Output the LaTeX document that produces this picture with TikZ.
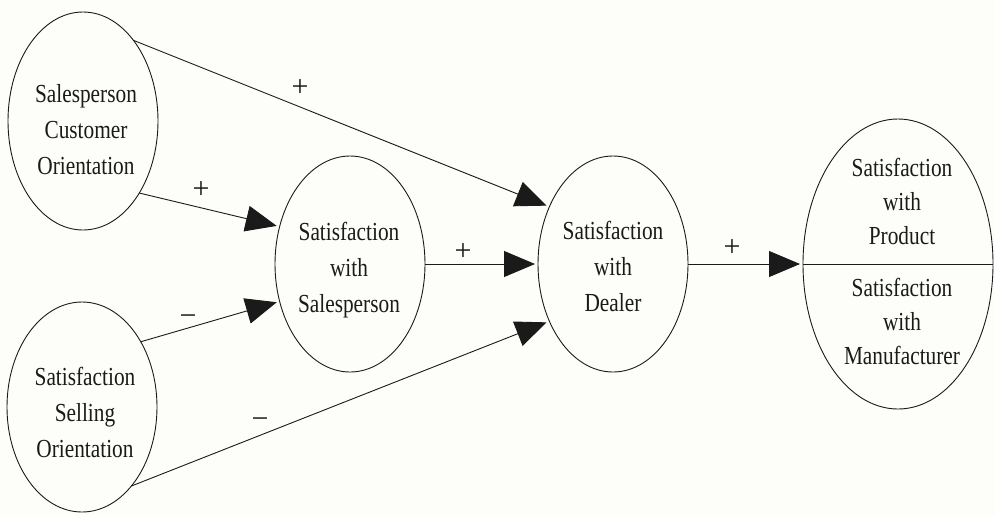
\documentclass[tikz,border=0pt]{standalone}
\usepackage{fontspec}
\usepackage{graphicx}
\setmainfont{Liberation Serif}
\usetikzlibrary{arrows.meta,shapes.geometric}
\definecolor{ink}{HTML}{1A1A1A}
\definecolor{paper}{HTML}{FDFDF9}
% condensed Times-like lettering
\newcommand\cond[1]{\scalebox{0.82}[1]{#1}}
\begin{document}
\begin{tikzpicture}[x=1pt,y=-1pt,
  construct/.style={draw=ink, line width=0.9pt, ellipse, inner sep=0pt, outer sep=0pt},
  captext/.style={text=ink, align=center, inner sep=0pt, font=\fontsize{26}{36}\selectfont},
  captight/.style={captext, font=\fontsize{26}{34}\selectfont},
  sign/.style={text=ink, inner sep=0pt, font=\fontsize{30}{30}\selectfont},
  link/.style={draw=ink, line width=0.9pt, -{Triangle[length=31pt,width=26pt]}, shorten >=3pt}]
% canvas
\fill[paper] (0,0) rectangle (995,515);
\useasboundingbox (0,0) rectangle (995,515);

% constructs
\node[construct, minimum width=150pt, minimum height=218pt] (e1) at (83,121) {};
\node[construct, minimum width=150pt, minimum height=210pt] (e2) at (82,407) {};
\node[construct, minimum width=150pt, minimum height=216pt] (e3) at (350,264) {};
\node[construct, minimum width=150pt, minimum height=216pt] (e4) at (613,264) {};
\node[construct, minimum width=190pt, minimum height=290pt] (e5) at (898,264) {};
\draw[ink, line width=0.9pt] (e5.west) -- (e5.east);

% construct names
\node[captext] (t1) at (86,130) {\cond{Salesperson}\\\cond{Customer}\\\cond{Orientation}};
\node[captext] (t2) at (85,412) {\cond{Satisfaction}\\\cond{Selling}\\\cond{Orientation}};
\node[captext] (t3) at (349,270) {\cond{Satisfaction}\\\cond{with}\\\cond{Salesperson}};
\node[captext] (t4) at (613,266) {\cond{Satisfaction}\\\cond{with}\\\cond{Dealer}};
\node[captight] (t5) at (902,201) {\cond{Satisfaction}\\\cond{with}\\\cond{Product}};
\node[captight] (t6) at (902,321) {\cond{Satisfaction}\\\cond{with}\\\cond{Manufacturer}};

% paths
\draw[link] (e1.58) -- (e4.138);
\draw[link] (e1.308) -- (e3.152);
\draw[link] (e2.48) -- (e3.208);
\draw[link] (e2.302) -- (e4.222);
\draw[link] (e3.east) -- (e4.west);
\draw[link] (e4.east) -- (e5.west);

% path signs
\node[sign] (s1) at (300,88) {+};
\node[sign] (s2) at (201,190) {+};
\node[sign] (s3) at (188,320) {−};
\node[sign] (s4) at (260,423) {−};
\node[sign] (s5) at (463,252) {+};
\node[sign] (s6) at (732,248) {+};
\end{tikzpicture}
\end{document}
